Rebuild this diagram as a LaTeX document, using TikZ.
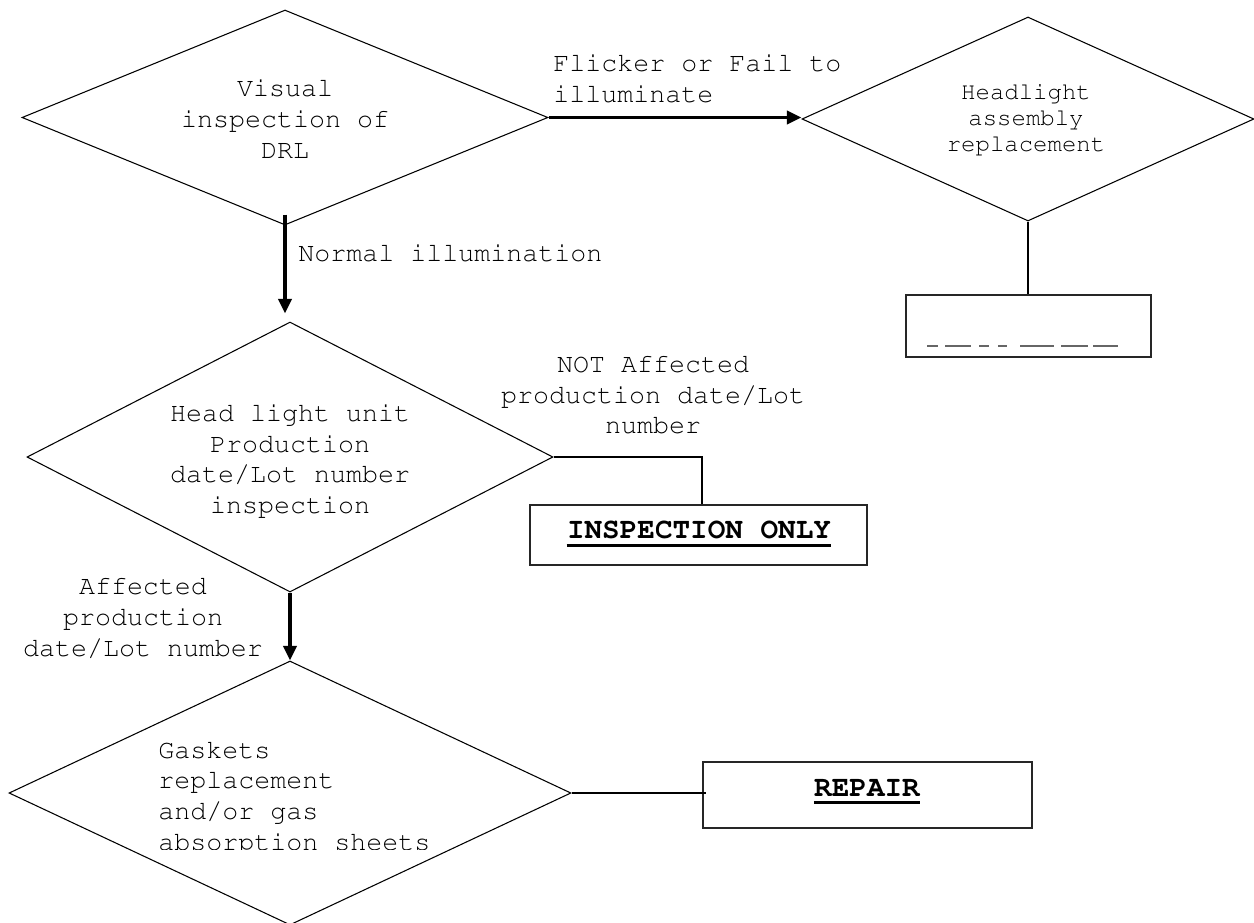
\documentclass[tikz,border=0pt]{standalone}
\usepackage[T1]{fontenc}
\usetikzlibrary{shapes.geometric,arrows.meta,calc}
\newcommand{\cour}{\fontfamily{pcr}\selectfont}
\begin{document}
\begin{tikzpicture}[x=0.75pt,y=-0.75pt,
  dia/.style={draw=black,line width=0.8pt,shape=diamond,inner sep=0pt,minimum width=#1},
  box/.style={draw=black!85,line width=1.1pt,inner sep=0pt},
  arr/.style={line width=2.3pt,-{Triangle[length=11pt,width=10pt]}},
  conn/.style={line width=1.5pt},
  txt/.style={font=\cour\fontsize{20pt}{23pt}\selectfont,inner sep=0pt,align=center},
  smalltxt/.style={font=\cour\fontsize{18pt}{19.5pt}\selectfont,inner sep=0pt,align=center},
  boldtxt/.style={font=\cour\bfseries\fontsize{22pt}{24pt}\selectfont,inner sep=0pt},
  uline/.style={line width=2.2pt}
]
\useasboundingbox (0,0) rectangle (1254,922);
\fill[white] (0,0) rectangle (1254,922);

% diamonds
\node[dia=394.5pt,minimum height=161.25pt] (d1) at (285,117.5) {};
\node[dia=394.5pt,minimum height=202.5pt] (d2) at (290,457) {};
\node[dia=421.5pt,minimum height=198pt] (d3) at (290,793) {};
\node[dia=339pt,minimum height=153pt] (d4) at (1028,119) {};

% boxes
\node[box,minimum width=183.75pt,minimum height=46.5pt] (b1) at (1028.5,326) {};
\node[box,minimum width=252.75pt,minimum height=45pt] (b2) at (698.5,535) {};
\node[box,minimum width=246.75pt,minimum height=49.5pt] (b3) at (867.5,795) {};

% diamond texts
\node[txt] (t1) at (285,119) {Visual\\inspection of\\DRL};
\node[smalltxt] (t4) at (1026,120) {Headlight\\assembly\\replacement};
\node[txt] (t2) at (290,461) {Head light unit\\Production\\date/Lot number\\inspection};
\begin{scope}
\clip (0,600) rectangle (1254,849);
\node[txt,align=left,anchor=north west] (t3) at (158,741) {Gaskets\\replacement\\and/or gas\\absorption sheets};
\end{scope}

% connector labels
\node[txt,align=left,anchor=west] (l1) at (553,79) {Flicker or Fail to\\illuminate};
\node[txt,anchor=west] (l2) at (298,253) {Normal illumination};
\node[txt] (l3) at (653,395) {NOT Affected\\production date/Lot\\number};
\node[txt] (l4) at (143,618) {Affected\\production\\date/Lot number};

% box texts
\node[boldtxt,anchor=base] (bt2) at (699,538) {INSPECTION ONLY};
\draw[uline] ($(bt2.base west)+(0,7.5)$) -- ($(bt2.base east)+(0,7.5)$);
\node[boldtxt,anchor=base] (bt3) at (867,796) {REPAIR};
\draw[uline] ($(bt3.base west)+(0,6.5)$) -- ($(bt3.base east)+(0,6.5)$);

% remains of clipped underline in top-right box
\coordinate (u0) at (b1.center);
\begin{scope}[draw=black!60,line width=0.9pt]
\draw ($(u0)+(-101.5,20)$) -- ++(11,0);
\draw ($(u0)+(-83.5,20)$) -- ++(26,0);
\draw ($(u0)+(-49.5,20)$) -- ++(10,0);
\draw ($(u0)+(-30.5,20)$) -- ++(9,0);
\draw ($(u0)+(-8.5,20)$) -- ++(34,0);
\draw ($(u0)+(32.5,20)$) -- ++(27,0);
\draw ($(u0)+(64.5,20)$) -- ++(25,0);
\end{scope}

% connectors
\draw[arr] ([yshift=8.25pt]d1.south) -- ([xshift=-3.75pt,yshift=6pt]d2.north);
\draw[arr] (d2.south) -- (d3.north);
\draw[arr] (d1.east) -- (d1.east -| d4.west);
\draw[conn] (d2.east) -| ([xshift=2.6pt]b2.north);
\draw[conn] (d4.south) -- (d4.south |- b1.north);
\draw[conn] (d3.east) -- ([xshift=3pt]b3.west |- d3.east);
\end{tikzpicture}
\end{document}
